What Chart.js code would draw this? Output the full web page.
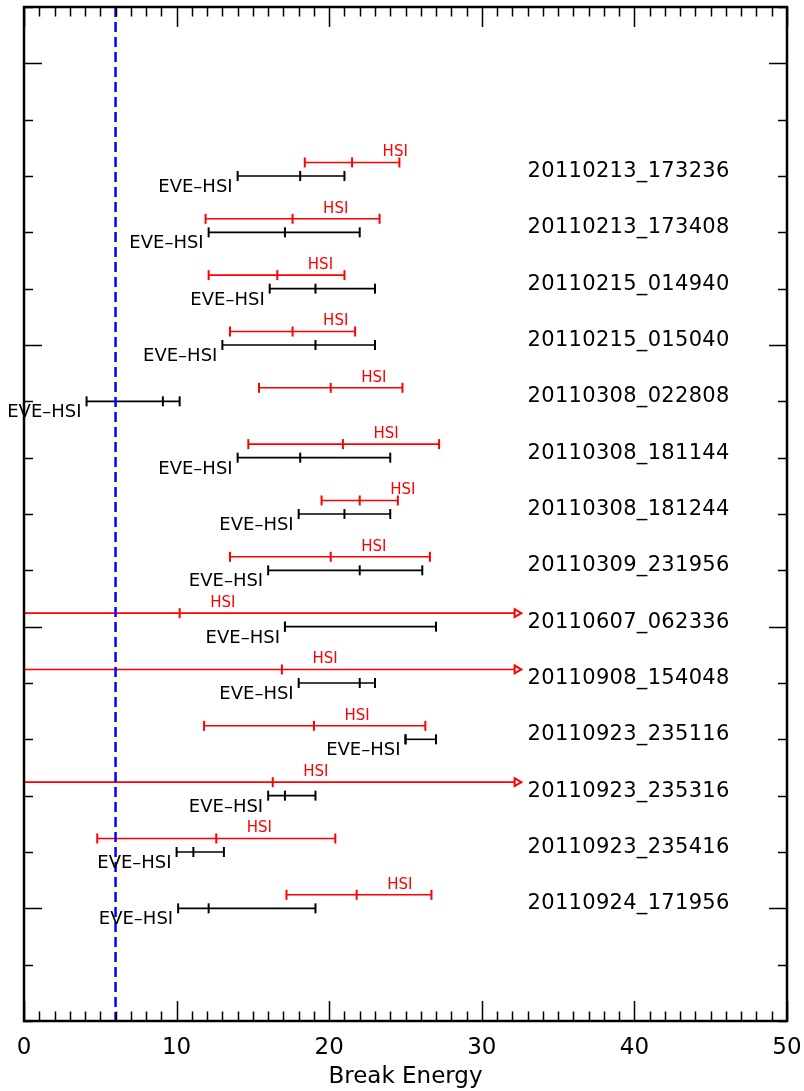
<!DOCTYPE html>
<html>
<head>
<meta charset="utf-8">
<script src="https://cdn.jsdelivr.net/npm/chart.js@4/dist/chart.umd.min.js"></script>
<style>
  html, body { margin: 0; padding: 0; background: #fff; }
  #wrap { width: 804px; height: 1091px; position: relative; }
</style>
</head>
<body>
<div id="wrap"><canvas id="breakChart"></canvas></div>
<script>
// event names, one row each, top to bottom
const events = [
    "20110213_173236", "20110213_173408", "20110215_014940", "20110215_015040",
    "20110308_022808", "20110308_181144", "20110308_181244", "20110309_231956",
    "20110607_062336", "20110908_154048", "20110923_235116", "20110923_235316",
    "20110923_235416", "20110924_171956"
];

// EVE-HSI break energy: lower, best, upper
const eveLow  = [14.0, 12.1, 16.1, 13.0,  4.1, 14.0, 18.0, 16.0, 17.1, 18.0, 25.0, 16.0, 10.0, 10.1];
const eveBest = [18.1, 17.1, 19.1, 19.1,  9.1, 18.1, 21.0, 22.0, 17.1, 22.0, 25.0, 17.1, 11.1, 12.1];
const eveHigh = [21.0, 22.0, 23.0, 23.0, 10.2, 24.0, 24.0, 26.1, 27.0, 23.0, 27.0, 19.1, 13.1, 19.1];

// HSI break energy: lower, best, upper (null = no upper bound)
const hsiLow  = [18.4, 11.9, 12.1, 13.5, 15.4, 14.7, 19.5, 13.5,  0.0,  0.0, 11.8,  0.0,  4.8, 17.2];
const hsiBest = [21.5, 17.6, 16.6, 17.6, 20.1, 20.9, 22.0, 20.1, 10.2, 16.9, 19.0, 16.3, 12.6, 21.8];
const hsiHigh = [24.6, 23.3, 21.0, 21.7, 24.8, 27.2, 24.5, 26.6, null, null, 26.3, null, 20.4, 26.7];

const xTicks = [0, 10, 20, 30, 40, 50];
const threshold = 6;

// where the open-ended HSI ranges stop with an arrow head
const ARROW_END = 32.3;
const HSI_SHIFT = 0.24;   // red bar sits a little above its row

const datasets = [];

// dashed reference line
datasets.push({
    data: [{ x: threshold, y: -3 }, { x: threshold, y: 15 }],
    borderColor: '#0000ff',
    borderWidth: 2.5,
    borderDash: [10, 5],
    pointRadius: 0,
    showLine: true,
    order: 0
});

events.forEach((name, i) => {
    datasets.push({
        data: [eveLow[i], eveBest[i], eveHigh[i]].map(v => ({ x: v, y: i })),
        borderColor: '#000',
        borderWidth: 1.6,
        pointStyle: 'line',
        pointRotation: 90,
        pointRadius: 5,
        pointBorderWidth: 2,
        pointBorderColor: '#000',
        showLine: true,
        clip: false,
        order: 1
    });

    const open = hsiHigh[i] === null;
    const ys = i - HSI_SHIFT;
    datasets.push({
        data: [hsiLow[i], hsiBest[i], open ? ARROW_END : hsiHigh[i]].map(v => ({ x: v, y: ys })),
        borderColor: '#ff0000',
        borderWidth: 1.6,
        pointStyle: open ? ['line', 'line', 'triangle'] : 'line',
        pointRotation: 90,
        pointRadius: open ? [5, 5, 4.5] : 5,
        pointBorderWidth: 2,
        pointBorderColor: '#ff0000',
        pointBackgroundColor: '#fff',
        showLine: true,
        clip: false,
        order: 1
    });
});

const FONT = "'DejaVu Sans', sans-serif";

// IDL style box: inward ticks on all four sides plus the text labels
const frameAndLabels = {
    id: 'frameAndLabels',
    afterDatasetsDraw(chart) {
        const { ctx, chartArea: a, scales: { x, y } } = chart;
        ctx.save();

        ctx.strokeStyle = '#000';
        ctx.lineWidth = 1.5;
        ctx.beginPath();
        for (let v = x.min; v <= x.max; v++) {
            const px = Math.round(x.getPixelForValue(v)) + 0.5;
            const len = v % 10 === 0 ? 20 : 9.5;
            ctx.moveTo(px, a.bottom); ctx.lineTo(px, a.bottom - len);
            ctx.moveTo(px, a.top); ctx.lineTo(px, a.top + len);
        }
        for (let v = y.min; v <= y.max; v++) {
            const py = Math.round(y.getPixelForValue(v)) + 0.5;
            const len = (v + 2) % 5 === 0 ? 18 : 9;
            ctx.moveTo(a.left, py); ctx.lineTo(a.left + len, py);
            ctx.moveTo(a.right, py); ctx.lineTo(a.right - len, py);
        }
        ctx.stroke();

        ctx.lineWidth = 2.5;
        ctx.strokeRect(a.left, a.top, a.right - a.left, a.bottom - a.top);

        events.forEach((name, i) => {
            const py = y.getPixelForValue(i);
            const pyRed = y.getPixelForValue(i - HSI_SHIFT);

            ctx.fillStyle = '#000';
            ctx.textBaseline = 'alphabetic';
            ctx.font = `21px ${FONT}`;
            ctx.textAlign = 'left';
            ctx.letterSpacing = '0.3px';
            ctx.fillText(name, x.getPixelForValue(33), py + 1);
            ctx.letterSpacing = '0px';

            ctx.font = `18px ${FONT}`;
            ctx.textAlign = 'right';
            ctx.fillText('EVE\u2013HSI', x.getPixelForValue(eveLow[i]) - 5, py + 16);

            ctx.fillStyle = '#ff0000';
            ctx.font = `15px ${FONT}`;
            ctx.textAlign = 'left';
            ctx.fillText('HSI', x.getPixelForValue(hsiBest[i] + 2), pyRed - 6);
        });

        ctx.restore();
    }
};

new Chart(document.getElementById('breakChart'), {
    type: 'scatter',
    data: { datasets },
    options: {
        responsive: true,
        maintainAspectRatio: false,
        animation: false,
        layout: { padding: { left: 24, right: 17, top: 7, bottom: 0 } },
        plugins: { legend: { display: false }, tooltip: { enabled: false } },
        scales: {
            x: {
                type: 'linear',
                min: 0,
                max: 50,
                afterBuildTicks: scale => { scale.ticks = xTicks.map(v => ({ value: v })); },
                afterFit: scale => {
                    scale.height = 70;
                    scale.paddingLeft = 0;
                    scale.paddingRight = 0;
                },
                grid: { display: false, drawTicks: false, tickLength: 0 },
                border: { display: false },
                ticks: {
                    color: '#000',
                    font: { family: FONT, size: 23 },
                    padding: 13,
                    maxRotation: 0
                },
                title: {
                    display: true,
                    text: 'Break Energy',
                    color: '#000',
                    font: { family: FONT, size: 23 },
                    padding: { top: 0, bottom: 0 }
                }
            },
            y: {
                type: 'linear',
                display: false,
                min: -3,
                max: 15,
                reverse: true
            }
        }
    },
    plugins: [frameAndLabels]
});
</script>
</body>
</html>
